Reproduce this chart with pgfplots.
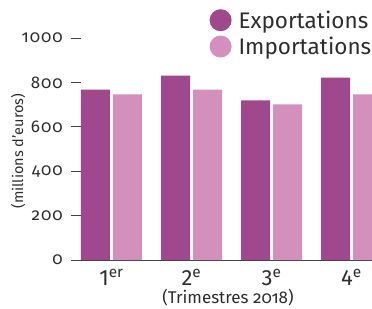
\documentclass[border=0pt]{standalone}
\usepackage{pgfplots}
\pgfplotsset{compat=1.18}
\usepackage{fontspec}
\setmainfont{Fira Sans}[Numbers=OldStyle]
\definecolor{expc}{RGB}{160,72,140}
\definecolor{impc}{RGB}{212,144,189}
\definecolor{txt}{RGB}{45,45,45}
\begin{document}
\begin{tikzpicture}
\path[use as bounding box] (-81pt,-48pt) rectangle (291pt,260pt);
\begin{axis}[
  scale only axis, width=291pt, height=222pt,
  xmin=-0.38125, xmax=3.25625, ymin=0, ymax=1000,
  ybar=3pt, bar width=29pt,
  separate axis lines,
  axis x line*=bottom, axis y line*=left,
  y axis line style={draw=none},
  x axis line style={draw=black!75, line width=0.9pt, -},
  xtick={0,1,2,3},
  xticklabels={1\textsuperscript{er},2\textsuperscript{e},3\textsuperscript{e},4\textsuperscript{e}},
  xtick style={draw=none},
  ytick={0,200,400,600,800,1000},
  ytick style={draw=black!75, line width=0.9pt},
  tick align=outside, major tick length=10pt,
  /pgf/number format/assume math mode=true,
  /pgf/number format/1000 sep={},
  yticklabel style={font=\fontsize{17}{17}\selectfont\addfontfeatures{LetterSpace=6}, text=txt, inner sep=0pt, xshift=-8pt},
  xticklabel style={font=\fontsize{22}{22}\selectfont\addfontfeatures{Numbers=Lining}, text=txt, inner sep=0pt, anchor=base, yshift=-15pt},
  xlabel={(Trimestres 2018)},
  xlabel style={font=\fontsize{17}{17}\selectfont, text=txt, at={(axis description cs:0.505,-0.17)}, anchor=center},
  ylabel={(millions d'euros)},
  ylabel style={font=\fontsize{14.5}{14.5}\selectfont, text=txt, at={(axis description cs:-0.2165,0.49)}, anchor=center, rotate=0},
  legend style={at={(axis description cs:0.998,1.1306)}, anchor=north east, draw=none, fill=none, inner sep=0pt,
    font=\fontsize{22.5}{22.5}\selectfont, text=txt, row sep=1pt,
    nodes={inner sep=0pt, text height=16pt, text depth=6pt}},
  legend cell align=left,
  legend image code/.code={\fill[#1, draw=none] (0pt,0.33em) circle (11pt); \path (18pt,0.33em);},
  clip=true,
]
\addplot[fill=expc, draw=none] coordinates {(0,768) (1,831) (2,719) (3,822)};
\addplot[fill=impc, draw=none] coordinates {(0,746) (1,768) (2,701) (3,746)};
\legend{Exportations, Importations}
\end{axis}
\end{tikzpicture}
\end{document}
